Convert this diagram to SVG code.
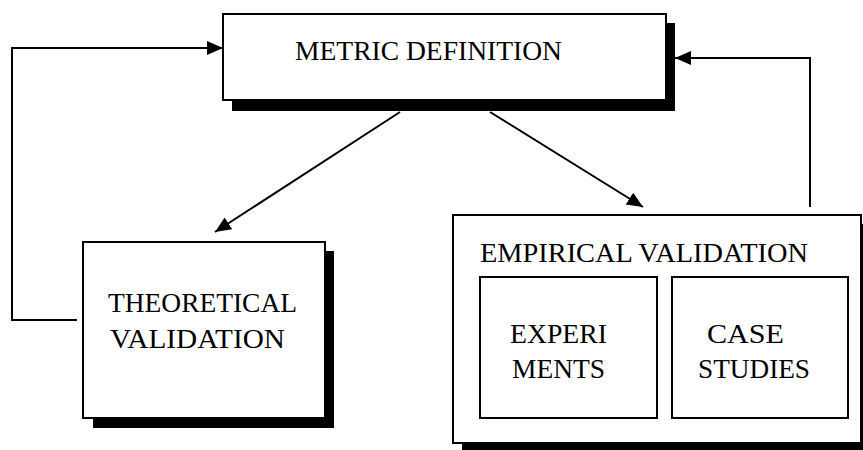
<svg xmlns="http://www.w3.org/2000/svg" width="863" height="450" viewBox="0 0 863 450">
<defs>
<style>
.box{fill:#fff;stroke:#000;stroke-width:2}
.shadow{fill:#000}
.t{font-family:"Liberation Serif","Times New Roman",serif;fill:#000;font-size:27px}
.con{fill:none;stroke:#000;stroke-width:2}
</style>
<marker id="ah" markerUnits="userSpaceOnUse" markerWidth="17" markerHeight="15" refX="16" refY="7" orient="auto">
<path d="M0,0 L16,7 L0,14 Z" fill="#000"/>
</marker>
</defs>
<rect width="863" height="450" fill="#fff"/>
<g id="metric-definition">
<rect class="shadow" x="232" y="23" width="443" height="88"/>
<rect class="box" x="223" y="14" width="443" height="86"/>
<text class="t" x="295" y="60" textLength="267" lengthAdjust="spacingAndGlyphs">METRIC DEFINITION</text>
</g>
<g id="theoretical-validation">
<rect class="shadow" x="93" y="251" width="241" height="177"/>
<rect class="box" x="83" y="242" width="242" height="176"/>
<text class="t" x="108" y="312" textLength="189" lengthAdjust="spacingAndGlyphs">THEORETICAL</text>
<text class="t" x="110" y="348" textLength="175" lengthAdjust="spacingAndGlyphs">VALIDATION</text>
</g>
<g id="empirical-validation">
<rect class="shadow" x="462" y="224" width="410" height="230"/>
<rect class="box" x="453" y="215" width="408" height="228"/>
<text class="t" x="480" y="262" textLength="328" lengthAdjust="spacingAndGlyphs">EMPIRICAL VALIDATION</text>
</g>
<g id="experiments">
<rect class="box" x="480" y="277" width="177" height="141"/>
<text class="t" x="510" y="343" textLength="97" lengthAdjust="spacingAndGlyphs">EXPERI</text>
<text class="t" x="512" y="378" textLength="93" lengthAdjust="spacingAndGlyphs">MENTS</text>
</g>
<g id="case-studies">
<rect class="box" x="672" y="277" width="176" height="141"/>
<text class="t" x="707" y="343" textLength="77" lengthAdjust="spacingAndGlyphs">CASE</text>
<text class="t" x="698" y="378" textLength="112" lengthAdjust="spacingAndGlyphs">STUDIES</text>
</g>
<g id="connectors">
<line class="con" x1="400" y1="112" x2="215" y2="232" marker-end="url(#ah)"/>
<line class="con" x1="490" y1="112" x2="643" y2="207" marker-end="url(#ah)"/>
<path class="con" d="M77,320 H12 V48 H223" marker-end="url(#ah)"/>
<path class="con" d="M810,207 V58 H675" marker-end="url(#ah)"/>
</g>
</svg>
